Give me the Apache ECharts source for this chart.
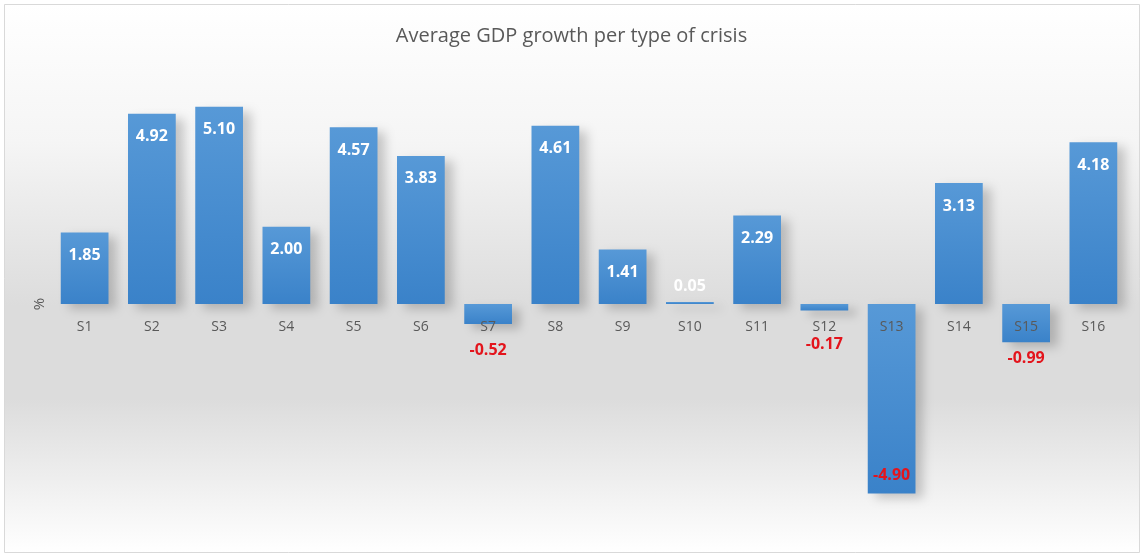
<!DOCTYPE html>
<html>
<head>
<meta charset="utf-8">
<title>Average GDP growth per type of crisis</title>
<script src="https://cdn.jsdelivr.net/npm/echarts@6/dist/echarts.min.js"></script>
<style>
  html, body { margin: 0; padding: 0; background: #ffffff; }
  #chart { width: 1143px; height: 556px; }
</style>
</head>
<body>
<div id="chart"></div>
<script>
const categories = ['S1', 'S2', 'S3', 'S4', 'S5', 'S6', 'S7', 'S8', 'S9', 'S10', 'S11', 'S12', 'S13', 'S14', 'S15', 'S16'];
const growth = [1.85, 4.92, 5.10, 2.00, 4.57, 3.83, -0.52, 4.61, 1.41, 0.05, 2.29, -0.17, -4.90, 3.13, -0.99, 4.18];

const FONT = '"Open Sans", "Liberation Sans", sans-serif';
const LABEL_RED = '#e3141c';
const GRID_HEIGHT = 464;

function barGradient() {
  return new echarts.graphic.LinearGradient(0, 0, 0, 1, [
    { offset: 0, color: '#5799d7' },
    { offset: 1, color: '#3a82c9' },
  ]);
}

// negative labels sit under the category labels, like the excel original
function labelFor(value) {
  const base = {
    show: true,
    fontFamily: FONT,
    fontWeight: 'bold',
    fontSize: 16,
    formatter: (p) => p.value.toFixed(2),
  };

  if (value < -2) {
    return { ...base, position: 'insideBottom', distance: 10, color: LABEL_RED };
  }
  if (value < 0) {
    const distance = Math.max(8, 30 - Math.abs(value) * 22);
    return { ...base, position: 'bottom', distance, color: LABEL_RED };
  }
  if (value < 0.5) {
    return { ...base, position: 'top', distance: 8, color: '#ffffff' };
  }
  return { ...base, position: 'insideTop', distance: 15, color: '#ffffff' };
}

const chart = echarts.init(document.getElementById('chart'), null, { renderer: 'canvas' });

chart.setOption({
  animation: false,
  backgroundColor: 'transparent',
  graphic: [
    {
      type: 'rect',
      z: -10,
      silent: true,
      shape: { x: 4.5, y: 4.5, width: 1135, height: 548 },
      style: {
        fill: new echarts.graphic.LinearGradient(0, 0, 0, 1, [
          { offset: 0, color: '#ffffff' },
          { offset: 0.25, color: '#f5f5f5' },
          { offset: 0.55, color: '#dcdcdc' },
          { offset: 0.72, color: '#dcdcdc' },
          { offset: 1, color: '#ffffff' },
        ]),
        stroke: '#d9d9d9',
        lineWidth: 1,
      },
    },
  ],
  title: {
    text: 'Average GDP growth per type of crisis',
    left: 'center',
    top: 21,
    textStyle: {
      color: '#595959',
      fontFamily: FONT,
      fontWeight: 'normal',
      fontSize: 20,
    },
  },
  grid: {
    top: 72,
    height: GRID_HEIGHT,
    left: 51,
    right: 16,
    containLabel: false,
    outerBoundsMode: 'none',
  },
  xAxis: {
    type: 'category',
    data: categories,
    position: 'bottom',
    // y range is symmetric, so the zero line is half the grid up
    offset: -GRID_HEIGHT / 2,
    axisLine: { show: false, onZero: false },
    axisTick: { show: false },
    axisLabel: {
      color: '#595959',
      fontFamily: FONT,
      fontSize: 14,
      margin: 16,
    },
    splitLine: { show: false },
    z: 5,
  },
  yAxis: {
    type: 'value',
    min: -6,
    max: 6,
    interval: 2,
    name: '%',
    nameLocation: 'middle',
    nameRotate: 90,
    nameGap: 4,
    nameTextStyle: { color: '#595959', fontFamily: FONT, fontSize: 15 },
    axisLine: { show: false },
    axisTick: { show: false },
    axisLabel: { show: false },
    splitLine: { show: false },
  },
  series: [
    {
      type: 'bar',
      barCategoryGap: '29%',
      data: growth.map((value) => ({
        value,
        label: labelFor(value),
      })),
      itemStyle: {
        color: barGradient(),
        shadowColor: 'rgba(0, 0, 0, 0.2)',
        shadowBlur: 10,
        shadowOffsetX: 8,
        shadowOffsetY: 5,
      },
    },
  ],
});
</script>
</body>
</html>
